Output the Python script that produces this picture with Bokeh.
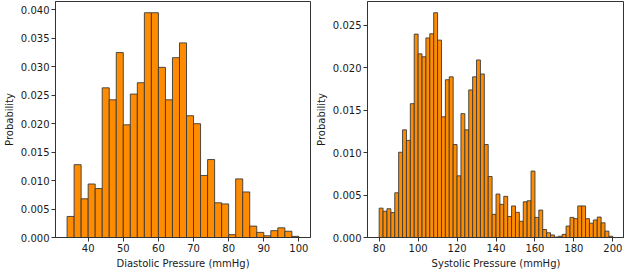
import numpy as np
from bokeh.plotting import figure
from bokeh.layouts import row
from bokeh.models import Range1d, FixedTicker, NumeralTickFormatter
from bokeh.embed import file_html
from bokeh.resources import INLINE

# ---- data (density histograms) ----
dia_bin_start = 34
dia_bin_width = 2
dia_density = [
    0.0037, 0.0128, 0.0068, 0.0094, 0.0086, 0.0263, 0.0242, 0.0325, 0.0198, 0.0252,
    0.0272, 0.0395, 0.0395, 0.0299, 0.0242, 0.0316, 0.0342, 0.0214, 0.0200, 0.0109,
    0.0137, 0.0061, 0.0059, 0.0005, 0.0103, 0.0080, 0.0020, 0.0009, 0.0003, 0.0012,
    0.0017, 0.0011, 0.0002,
]
dia_xticks = [40, 50, 60, 70, 80, 90, 100]
dia_yticks = [0.000, 0.005, 0.010, 0.015, 0.020, 0.025, 0.030, 0.035, 0.040]
dia_xlabel = "Diastolic Pressure (mmHg)"

sys_bin_start = 80
sys_bin_width = 2
sys_density = [
    0.00346, 0.00309, 0.00339, 0.00294, 0.00527, 0.01005, 0.01269, 0.01145, 0.01578, 0.02398,
    0.02165, 0.02131, 0.02353, 0.02402, 0.02650, 0.02327, 0.01423, 0.01860, 0.01894, 0.01096,
    0.00727, 0.01460, 0.01269, 0.01740, 0.01894, 0.02093, 0.01928, 0.01096, 0.00719, 0.00273,
    0.00512, 0.00391, 0.00485, 0.00248, 0.00372, 0.00297, 0.00192, 0.00421, 0.00433, 0.00783,
    0.00237, 0.00323, 0.00094, 0.00056, 0.00030, 0.00005, 0.00015, 0.00037, 0.00135, 0.00237,
    0.00222, 0.00372, 0.00372, 0.00222, 0.00169, 0.00207, 0.00241, 0.00173, 0.00075, 0.00015,
]
sys_xticks = [80, 100, 120, 140, 160, 180, 200]
sys_yticks = [0.000, 0.005, 0.010, 0.015, 0.020, 0.025]
sys_xlabel = "Systolic Pressure (mmHg)"

ylabel = "Probability"

FONT = "DejaVu Sans"
FS = "10px"
BAR_FILL = "#ff8c00"
BAR_LINE = "#3a3a3a"
SPINE = "#333333"
TEXT = "#1a1a1a"


def hist_panel(start, width, dens, xticks, yticks, xlabel, fig_w, border_r):
    dens = np.asarray(dens, dtype=float)
    edges = start + width * np.arange(len(dens) + 1)
    lo, hi = edges[0], edges[-1]
    pad = 0.05 * (hi - lo)
    p = figure(
        width=fig_w, height=271,
        output_backend="svg", toolbar_location=None,
        x_range=Range1d(lo - pad, hi + pad),
        y_range=Range1d(0, dens.max() * 1.05),
        min_border_top=1, min_border_right=border_r, min_border_left=0,
        min_border_bottom=0,
    )
    p.quad(left=edges[:-1], right=edges[1:], bottom=0, top=dens,
           fill_color=BAR_FILL, line_color=BAR_LINE, line_width=0.9)

    p.xgrid.visible = False
    p.ygrid.visible = False
    p.outline_line_color = SPINE
    p.outline_line_width = 1
    p.outline_line_alpha = 1

    p.xaxis.ticker = FixedTicker(ticks=xticks)
    p.yaxis.ticker = FixedTicker(ticks=yticks)
    p.yaxis.formatter = NumeralTickFormatter(format="0.000")

    for ax in (p.xaxis[0], p.yaxis[0]):
        ax.axis_line_color = SPINE
        ax.major_tick_line_color = SPINE
        ax.major_tick_out = 4
        ax.major_tick_in = 0
        ax.minor_tick_line_color = None
        ax.major_label_text_font = FONT
        ax.major_label_text_font_size = FS
        ax.major_label_text_color = TEXT
        ax.axis_label_text_font = FONT
        ax.axis_label_text_font_size = FS
        ax.axis_label_text_font_style = "normal"
        ax.axis_label_text_color = TEXT
        ax.major_label_standoff = 2
        ax.axis_label_standoff = 3

    p.xaxis.axis_label = xlabel
    p.yaxis.axis_label = ylabel
    return p


p1 = hist_panel(dia_bin_start, dia_bin_width, dia_density, dia_xticks, dia_yticks,
                dia_xlabel, 312, 2)
p2 = hist_panel(sys_bin_start, sys_bin_width, sys_density, sys_xticks, sys_yticks,
                sys_xlabel, 312, 0)

layout = row(p1, p2)
open("out.html", "w").write(file_html(layout, INLINE))
